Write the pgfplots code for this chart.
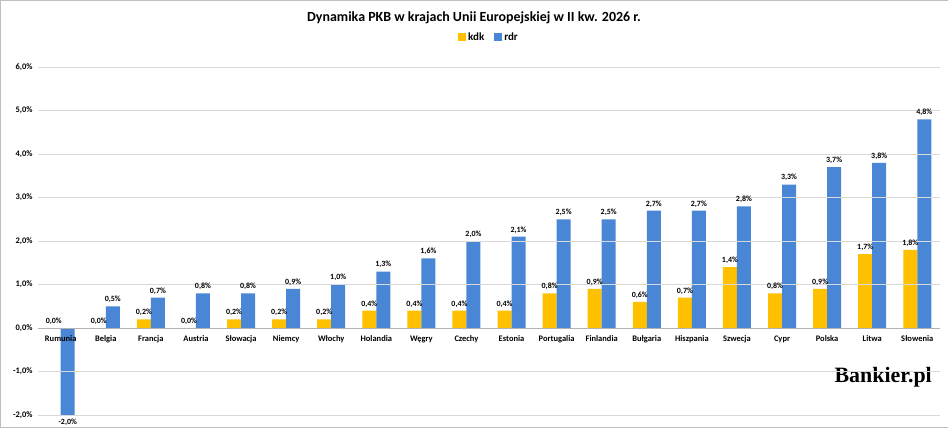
\documentclass[border=0pt]{standalone}
\usepackage{pgfplots}
\pgfplotsset{compat=1.18}
\usepackage{fontspec}
\setmainfont{Carlito}
\newfontfamily\logofont{Liberation Serif}
\definecolor{kdk}{HTML}{FFC000}
\definecolor{rdr}{HTML}{4A86D6}
\begin{document}
\begin{tikzpicture}[x=1bp,y=1bp]
\draw[gray!50,fill=white] (0,0) rectangle (948,427);
\node[font=\bfseries\fontsize{14}{16}\selectfont] at (474,409) {Dynamika PKB w krajach Unii Europejskiej w II kw. 2026 r.};
\begin{axis}[at={(38bp,12bp)},anchor=south west,scale only axis,width=902bp,height=348bp,
 ybar=0pt,bar width=14bp,axis on top,
 xmin=-0.5,xmax=19.5,ymin=-2,ymax=6,
 ytick={-2,-1,0,1,2,3,4,5,6},
 ymajorgrids,grid style={gray!30},
 axis x line=middle, axis y line=left,
 y axis line style={draw=none},ytick style={draw=none},
 x axis line style={gray!60,-},
 xtick=data,xtick style={draw=none},
 xticklabels={Rumunia,Belgia,Francja,Austria,Słowacja,Niemcy,Włochy,Holandia,Węgry,Czechy,Estonia,Portugalia,Finlandia,Bułgaria,Hiszpania,Szwecja,Cypr,Polska,Litwa,Słowenia},
 xticklabel style={font=\bfseries\fontsize{8.5}{9}\selectfont,yshift=-2bp},
 yticklabel={\pgfmathprintnumber[fixed,fixed zerofill,precision=1,use comma]{\tick}\%},
 yticklabel style={font=\bfseries\fontsize{8.5}{9}\selectfont},
 /pgf/number format/assume math mode=true,
 nodes near coords={\pgfmathprintnumber[fixed,fixed zerofill,precision=1,use comma]{\pgfplotspointmeta}\%},
 every node near coord/.append style={font=\bfseries\fontsize{8}{9}\selectfont,black},
 legend style={at={(0.5,1.06)},anchor=south,draw=none,legend columns=2,font=\bfseries\fontsize{11}{13}\selectfont,/tikz/every even column/.append style={column sep=8bp}},
 legend image code/.code={\fill[#1] (0,-3bp) rectangle (8bp,5bp);},
 clip=false]
\addplot[fill=kdk,draw=none] coordinates {(0,0.0)(1,0.0)(2,0.2)(3,0.0)(4,0.2)(5,0.2)(6,0.2)(7,0.4)(8,0.4)(9,0.4)(10,0.4)(11,0.8)(12,0.9)(13,0.6)(14,0.7)(15,1.4)(16,0.8)(17,0.9)(18,1.7)(19,1.8)};
\addplot[fill=rdr,draw=none] coordinates {(0,-2.0)(1,0.5)(2,0.7)(3,0.8)(4,0.8)(5,0.9)(6,1.0)(7,1.3)(8,1.6)(9,2.0)(10,2.1)(11,2.5)(12,2.5)(13,2.7)(14,2.7)(15,2.8)(16,3.3)(17,3.7)(18,3.8)(19,4.8)};
\legend{kdk,rdr}
\node[font=\logofont\bfseries\fontsize{22}{24}\selectfont,anchor=east] at (rel axis cs:0.995,0.11) {Bankier.pl};
\end{axis}
\end{tikzpicture}
\end{document}
